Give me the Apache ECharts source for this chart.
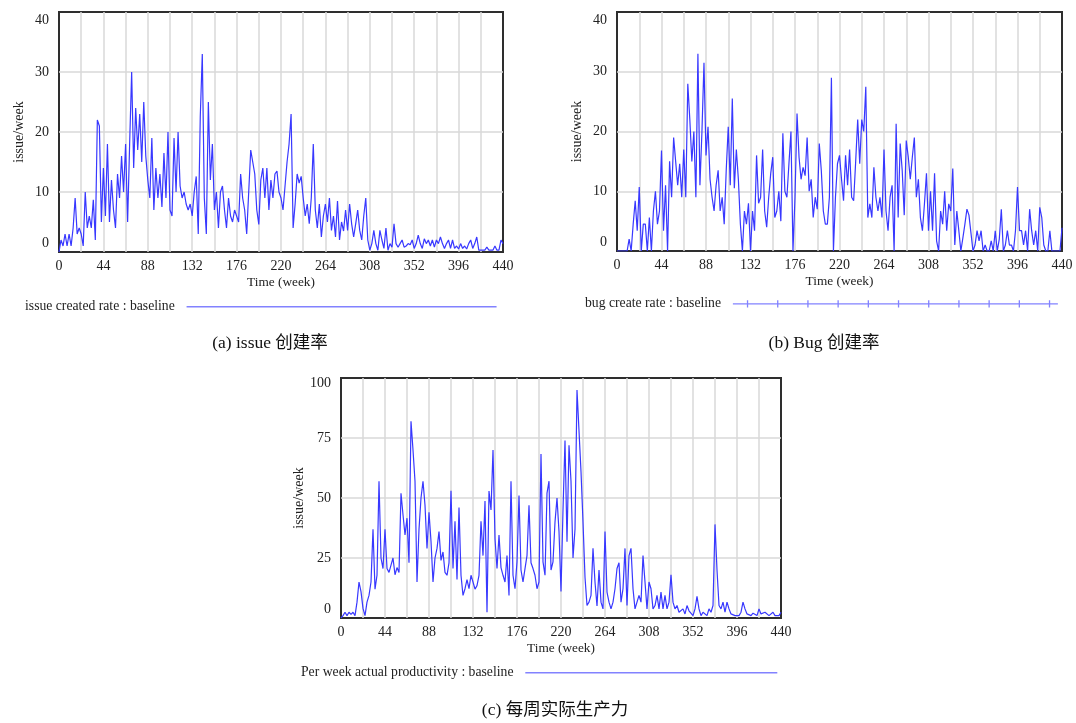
<!DOCTYPE html>
<html>
<head>
<meta charset="utf-8">
<script src="https://cdn.jsdelivr.net/npm/echarts@6/dist/echarts.min.js"></script>
<style>
html,body{margin:0;padding:0;background:#fff;}
#chart{width:1076px;height:723px;}
</style>
</head>
<body>
<div id="chart"></div>
<script>
// ---------- data (one value every 2 weeks, weeks 0..440) ----------
const WEEK_STEP = 2;
const xTickLabels = [0, 44, 88, 132, 176, 220, 264, 308, 352, 396, 440];

const issueCreatedRate = [
  0, 2, 1, 3, 1, 3, 1, 4, 9, 3, 4,
  3, 1, 10, 4, 6, 4, 8.7, 2, 22, 21, 5,
  14, 6, 18, 5, 12, 7, 4, 13, 9, 16, 10,
  18, 5, 18, 30, 14, 24, 17, 23, 15, 25, 16,
  12, 9, 19, 7, 14, 9, 13, 7.5, 16.5, 9, 20,
  7, 6, 19, 10, 20, 11, 9, 10, 8, 7, 8,
  6, 10, 12.6, 3, 22.6, 33, 9, 3, 25, 12, 18,
  7, 10, 4, 10, 11, 7, 4, 9, 6, 5, 7,
  6, 5, 13, 9, 7, 3, 10, 17, 15, 13, 7,
  4.6, 12, 14, 9, 14, 7, 12, 9, 13, 13.5, 10,
  9, 7, 11, 15, 18, 23, 4, 8, 13, 11.5, 12.6,
  9, 6, 8, 4.7, 9, 18, 7, 4, 8, 2.5, 6,
  8, 5, 9, 3.6, 6, 2.5, 8.5, 2, 5, 3.5, 7,
  3.6, 8, 4.7, 2.5, 4.7, 7, 3.6, 2, 6, 9, 2,
  0.3, 1.4, 3.6, 1.4, 0.3, 3.6, 2, 0.6, 4, 0.3, 1.4,
  0.8, 4.7, 1.4, 0.8, 1.4, 2, 0.8, 1, 1.4, 1.2, 2,
  0.6, 1.4, 2.8, 1.4, 0.6, 2.2, 1.4, 2, 1, 2, 0.8,
  2, 1.4, 2.5, 1.4, 0.6, 1.4, 2, 0.6, 2, 0.6, 1,
  0.5, 1.4, 0.6, 1, 0.5, 1.4, 2, 0.6, 1.4, 2.5, 0.3,
  0.3, 0.3, 0.3, 0.8, 0.3, 0.3, 0.3, 1, 0.3, 0.3, 2,
  1.4
];

const bugCreateRate = [
  0, 0, 0, 0, 0, 0, 2, 0, 4.5, 8.4, 3.4,
  10.7, 0, 4.5, 4.5, 0, 5.6, 0, 6.7, 10, 4.5, 6.7,
  16.8, 3.4, 11, 0, 15, 9, 19, 15, 11, 14.6, 9,
  17, 9, 28, 22, 15, 20, 9, 33, 11, 20, 31.5,
  16, 20.8, 12, 9, 6.7, 11, 13.5, 6.7, 9, 4.5, 13.5,
  20.8, 11, 25.5, 10.5, 17, 12, 4.5, 0, 6.7, 4.5, 8,
  0, 6.7, 3.4, 16, 8, 9, 17, 6.7, 4, 9, 13,
  15.7, 5.6, 6.7, 10, 5, 19.7, 10, 9, 14.6, 20, 0,
  9, 23, 15.7, 12, 14, 12.6, 19, 10, 12, 5.6, 9,
  7, 18, 13.5, 6.7, 4.5, 4.5, 9, 29, 0, 9, 14.6,
  16, 12, 8.4, 16, 11, 17, 9, 8.4, 15, 22, 14.6,
  22, 20, 27.5, 5.6, 7.9, 5.6, 14, 9, 6.7, 9, 5.6,
  17, 6.7, 3.4, 9, 11, 0, 21.3, 5.6, 18, 13.5, 6,
  18.5, 15.7, 12, 15.7, 19, 9, 12, 5.6, 3.4, 7.9, 13,
  3.4, 10, 3.4, 13, 1.7, 0, 6.7, 4.5, 10, 3.4, 7.9,
  6.7, 13.8, 1, 6.7, 3.4, 0, 2.2, 4.5, 7, 6, 3,
  0, 1, 3.4, 1.7, 3.4, 0, 1, 0, 0, 1.7, 0,
  3.4, 0, 2, 7, 0, 1, 3.4, 1, 1, 0, 3.4,
  10.7, 3.4, 3.4, 1, 3.4, 0, 7, 3.4, 1, 3.4, 0,
  7.3, 5.6, 1, 0, 0, 3.4, 0, 0, 0, 0, 0,
  3.9
];

const perWeekActualProductivity = [
  0, 1, 2.4, 1, 2.4, 1.5, 2.4, 1, 6.6, 15, 11,
  4, 1, 6.6, 9.4, 15, 37, 12, 17.8, 57, 25, 20.6,
  37, 20.6, 19, 22, 25, 18, 21, 19, 52, 43, 34.6,
  41.6, 23, 82, 70, 57, 15, 37, 50, 57, 47, 29,
  44, 32, 15, 25, 29, 36, 24, 27.5, 19, 17.8, 23,
  53, 20.6, 40.3, 16, 46, 17.8, 9.4, 12.2, 16, 12.2, 17.8,
  15, 12, 13.5, 17.8, 40.3, 26, 48.7, 2.4, 52.9, 45, 70,
  33, 20.6, 34.6, 21, 17.8, 15, 26, 9.4, 57, 17.8, 12.2,
  23.4, 51, 20, 15, 20.6, 26, 47, 23, 20.6, 17.8, 12.2,
  15, 68.3, 23.4, 17.8, 52, 57, 20, 23.4, 40, 50, 36,
  11, 45, 74, 31.8, 72, 57, 25, 37, 95, 78, 61,
  40, 17, 5.2, 6.6, 9.4, 29, 15, 5, 20, 6.6, 3.8,
  36, 10.8, 6.6, 3.8, 6.6, 12.2, 20.6, 23, 6.6, 12.2, 29,
  5.2, 26, 29, 12.2, 3.8, 6.6, 9.4, 6.6, 26, 15, 3.8,
  15, 12.2, 3.8, 5.2, 9.4, 3.8, 10.8, 3.8, 9.4, 3.8, 6.6,
  18, 6.6, 3.8, 5.2, 2.4, 2.4, 3.8, 1.7, 5.2, 3, 3.8,
  1, 3.8, 9, 3.8, 1, 2.4, 1.7, 1, 3.8, 2.4, 5.2,
  39, 20, 5.2, 3.8, 6.6, 2.4, 6.6, 3.8, 1.7, 1, 1,
  0.3, 1, 2.4, 6.6, 3.8, 1.7, 2.4, 1, 2, 2.4, 1,
  3.8, 1.7, 1, 2.4, 3, 1, 1.5, 2.4, 1, 1.7, 1,
  2.4
];

const seriesNames = [
  'issue created rate : baseline',
  'bug create rate : baseline',
  'Per week actual productivity : baseline'
];
const yAxisName = 'issue/week';
const xAxisName = 'Time (week)';
const captions = ['(a) issue 创建率', '(b) Bug 创建率', '(c) 每周实际生产力'];
const yRanges = [[0, 40, 10], [0, 40, 10], [0, 100, 25]];

// ---------- chart ----------
const SERIF = "'Liberation Serif', 'Times New Roman', 'Noto Sans CJK SC', serif";
const LINE_BLUE = '#3838ff';
const LEGEND_BLUE = '#8282ff';

function toPairs(values) {
  return values.map((v, i) => [i * WEEK_STEP, v]);
}

const grids = [
  { left: 59, top: 12, width: 444, height: 240 },
  { left: 617, top: 12, width: 445, height: 239 },
  { left: 341, top: 378, width: 440, height: 240 }
];

const xAxes = grids.map((g, i) => ({
  type: 'value', gridIndex: i, min: 0, max: 440, interval: 22,
  axisLine: { show: false }, axisTick: { show: false },
  splitLine: { show: true, showMinLine: false, showMaxLine: false, lineStyle: { color: '#d8d8d8', width: 1.5 } },
  axisLabel: {
    margin: 7, fontFamily: SERIF, fontSize: 14, color: '#222',
    formatter: v => (xTickLabels.indexOf(v) >= 0 ? String(v) : '')
  },
  name: xAxisName, nameLocation: 'middle', nameGap: 24,
  nameTextStyle: { fontFamily: SERIF, fontSize: 13.3, color: '#222' }
}));

const yLabelFont = { fontFamily: SERIF, fontSize: 14, color: '#222' };
const yAxes = grids.map((g, i) => {
  const [mn, mx, step] = yRanges[i];
  const hiPad = i === 2 ? 10 : 16;
  return {
    type: 'value', gridIndex: i, min: mn, max: mx, interval: step,
    axisLine: { show: false }, axisTick: { show: false },
    splitLine: { show: true, showMinLine: false, showMaxLine: false, lineStyle: { color: '#d8d8d8', width: 1.5 } },
    axisLabel: {
      margin: 10, ...yLabelFont,
      formatter: v => (v === mn ? '{lo|' + v + '}' : v === mx ? '{hi|' + v + '}' : String(v)),
      rich: {
        lo: Object.assign({ padding: [0, 0, 18, 0] }, yLabelFont),
        hi: Object.assign({ padding: [hiPad, 0, 0, 0] }, yLabelFont)
      }
    },
    name: yAxisName, nameLocation: 'middle', nameGap: 33,
    nameTextStyle: { fontFamily: SERIF, fontSize: 14, color: '#222' }
  };
});

const dataSets = [issueCreatedRate, bugCreateRate, perWeekActualProductivity];
const series = dataSets.map((vals, i) => ({
  name: seriesNames[i], type: 'line', xAxisIndex: i, yAxisIndex: i,
  data: toPairs(vals), showSymbol: false, symbol: 'none', silent: true,
  lineStyle: { color: LINE_BLUE, width: 1.2 }, itemStyle: { color: LINE_BLUE },
  animation: false
}));

// legend icons (pure styling)
function plainIcon(w, h) {
  return 'path://M0,0H' + w + 'V' + h + 'H0Z';
}
function tickedIcon(w) {
  let p = 'M0,3H' + w + 'V4.4H0Z';
  for (let k = 0; k < 11; k++) {
    const x = 14 + k * 30.2;
    p += 'M' + x.toFixed(1) + ',0H' + (x + 1.3).toFixed(1) + 'V7.4H' + x.toFixed(1) + 'Z';
  }
  return 'path://' + p;
}

const legendText = { fontFamily: SERIF, fontSize: 13.7, color: '#222' };
const legends = [
  { left: 25, top: 300, itemWidth: 310, itemHeight: 1.5, icon: plainIcon(310, 1.5), name: seriesNames[0] },
  { left: 585, top: 297, itemWidth: 325, itemHeight: 7.4, icon: tickedIcon(325), name: seriesNames[1] },
  { left: 301, top: 666, itemWidth: 252, itemHeight: 1.5, icon: plainIcon(252, 1.5), name: seriesNames[2] }
].map(l => ({
  show: true, left: l.left, top: l.top, padding: 0, align: 'right', orient: 'horizontal',
  itemWidth: l.itemWidth, itemHeight: l.itemHeight, selectedMode: false,
  data: [{ name: l.name, icon: l.icon }],
  itemStyle: { color: LEGEND_BLUE, borderWidth: 0 },
  lineStyle: { width: 0 },
  formatter: n => n + '  ',
  textStyle: legendText
}));

const captionPos = [[270, 343], [824, 343], [555, 710]];
const graphics = captions.map((t, i) => ({
  type: 'text', x: captionPos[i][0], y: captionPos[i][1], silent: true,
  style: {
    text: t, fill: '#111',
    font: "17.5px 'Liberation Serif', 'Noto Sans CJK SC', serif",
    textAlign: 'center', textVerticalAlign: 'middle'
  }
}));

const chart = echarts.init(document.getElementById('chart'), null, { renderer: 'canvas' });
chart.setOption({
  backgroundColor: '#fff',
  animation: false,
  grid: grids.map(g => Object.assign({ show: true, borderColor: '#2e2e2e', borderWidth: 2, backgroundColor: 'transparent' }, g)),
  xAxis: xAxes,
  yAxis: yAxes,
  legend: legends,
  series: series,
  graphic: graphics
});
</script>
</body>
</html>
